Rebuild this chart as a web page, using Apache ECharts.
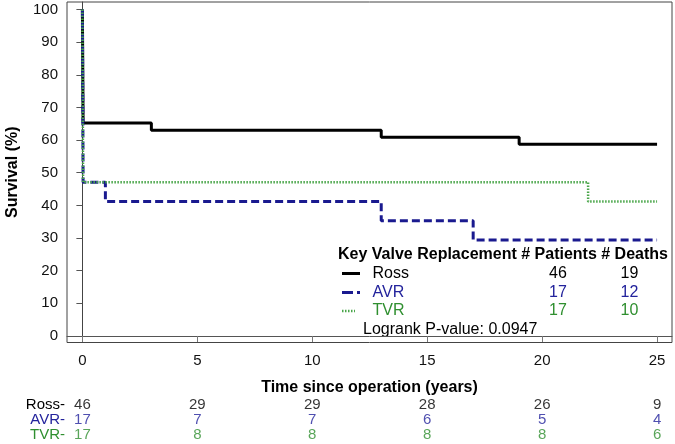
<!DOCTYPE html>
<html>
<head>
<meta charset="utf-8">
<script src="https://cdn.jsdelivr.net/npm/echarts@6/dist/echarts.min.js"></script>
<style>
  html, body { margin: 0; padding: 0; background: #fff; }
  #chart { width: 675px; height: 444px; }
</style>
</head>
<body>
<div id="chart"></div>
<script>
// Kaplan-Meier estimates at event times (years, survival %)
const rossTimes = [0, 0.03, 3, 13, 19, 25];
const rossSurv = [100, 65.2, 63.0, 60.9, 58.7, 58.7];
const avrTimes = [0, 0.03, 1, 13, 17, 25];
const avrSurv = [100, 47.1, 41.2, 35.3, 29.4, 29.4];
const tvrTimes = [0, 0.03, 22, 25];
const tvrSurv = [100, 47.1, 41.2, 41.2];

// legend key
const groups = ['Ross', 'AVR', 'TVR'];
const patients = [46, 17, 17];
const deaths = [19, 12, 10];
const pValue = '0.0947';

// numbers at risk
const riskRows = ['Ross-', 'AVR-', 'TVR-'];
const riskTimes = [0, 5, 10, 15, 20, 25];
const rossRisk = [46, 29, 29, 28, 26, 9];
const avrRisk = [17, 7, 7, 6, 5, 4];
const tvrRisk = [17, 8, 8, 8, 8, 6];

const xTicks = [0, 5, 10, 15, 20, 25];
const yTicks = [0, 10, 20, 30, 40, 50, 60, 70, 80, 90, 100];

const lineColors = ['#000000', '#1a1a8f', '#4aa64a'];
const textColors = ['#000000', '#23239c', '#2f8f2f'];
const font = 'Liberation Sans, Arial, sans-serif';
const narrow = 'Liberation Sans Narrow, Liberation Sans, Arial, sans-serif';

const zip = (a, b) => a.map((v, i) => [v, b[i]]);

const chart = echarts.init(document.getElementById('chart'));

const riskSeries = [rossRisk, avrRisk, tvrRisk].map((vals, r) => ({
  type: 'scatter',
  xAxisIndex: 1,
  yAxisIndex: 1,
  symbolSize: 1,
  itemStyle: { color: 'rgba(0,0,0,0)' },
  silent: true,
  label: {
    show: true,
    position: 'inside',
    formatter: p => p.value[2],
    color: textColors[r],
    fontSize: 15,
    fontFamily: narrow
  },
  data: riskTimes.map((t, i) => [t, riskRows[r], vals[i]])
}));

// legend box drawn as graphic text
const legendX = 338;
const rowY = [273.5, 292.5, 311];
const legendGraphics = [
  { type: 'text', left: legendX, top: 247, style: {
    text: 'Key Valve Replacement # Patients # Deaths',
    font: 'bold 16px ' + font, fill: '#000' } }
];
const dashes = [null, [11, 4], [1.5, 1.5]];
const widths = [3, 3, 2.5];
const swatchEnd = [360, 360, 355];
groups.forEach((g, i) => {
  legendGraphics.push({ type: 'line', shape: { x1: 342, y1: rowY[i], x2: swatchEnd[i], y2: rowY[i] },
    style: { stroke: lineColors[i], lineWidth: widths[i], lineDash: dashes[i] } });
  legendGraphics.push({ type: 'text', x: 372.5, y: rowY[i], style: {
    text: g, font: '16px ' + font, fill: textColors[i], verticalAlign: 'middle' } });
  legendGraphics.push({ type: 'text', x: 558, y: rowY[i], style: {
    text: String(patients[i]), font: '16px ' + font, fill: textColors[i], align: 'center', verticalAlign: 'middle' } });
  legendGraphics.push({ type: 'text', x: 629.5, y: rowY[i], style: {
    text: String(deaths[i]), font: '16px ' + font, fill: textColors[i], align: 'center', verticalAlign: 'middle' } });
});
legendGraphics.push({ type: 'text', x: 363, y: 329.5, style: {
  text: 'Logrank P-value: ' + pValue, font: '16px ' + font, fill: '#000', verticalAlign: 'middle' } });

chart.setOption({
  animation: false,
  textStyle: { fontFamily: font },
  grid: [
    { left: 67, top: 2, width: 605, height: 340.5, show: true, borderColor: '#444', borderWidth: 1,
      outerBoundsMode: 'none', containLabel: false },
    { left: 67, top: 398, width: 605, height: 44, outerBoundsMode: 'none', containLabel: false }
  ],
  xAxis: [
    {
      type: 'value', min: -0.67, max: 25.65,
      name: 'Time since operation (years)', nameLocation: 'middle', nameGap: 37,
      nameTextStyle: { fontSize: 16, fontWeight: 'bold', color: '#000' },
      axisLine: { show: true, lineStyle: { color: '#555' } },
      axisTick: { show: true, length: 6, customValues: xTicks, lineStyle: { color: '#777' } },
      axisLabel: { customValues: xTicks, fontSize: 15, margin: 11, color: '#111' },
      splitLine: { show: false }
    },
    {
      type: 'value', gridIndex: 1, min: -0.67, max: 25.65, show: false
    }
  ],
  yAxis: [
    {
      type: 'value', min: -2, max: 102.3,
      name: 'Survival (%)', nameLocation: 'middle', nameGap: 46,
      nameTextStyle: { fontSize: 16, fontWeight: 'bold', color: '#000' },
      axisLine: { show: true, lineStyle: { color: '#444' } },
      axisTick: { show: true, length: 6, customValues: yTicks, lineStyle: { color: '#555' } },
      axisLabel: { customValues: yTicks, fontSize: 15, margin: 9, color: '#111' },
      splitLine: { show: false }
    },
    {
      type: 'category', gridIndex: 1, data: riskRows, inverse: true,
      axisLine: { show: false }, axisTick: { show: false },
      axisLabel: { interval: 0, fontSize: 15, margin: 2, fontFamily: narrow,
        color: (v, i) => textColors[riskRows.indexOf(v)] }
    }
  ],
  series: [
    { name: 'Ross', type: 'line', step: 'end', symbol: 'none', silent: true,
      lineStyle: { color: lineColors[0], width: 3 }, data: zip(rossTimes, rossSurv) },
    { name: 'AVR', type: 'line', step: 'end', symbol: 'none', silent: true,
      lineStyle: { color: lineColors[1], width: 3, type: [8, 4] }, data: zip(avrTimes, avrSurv) },
    { name: 'TVR', type: 'line', step: 'end', symbol: 'none', silent: true,
      lineStyle: { color: lineColors[2], width: 2.5, type: [1.5, 1.5] }, data: zip(tvrTimes, tvrSurv) }
  ].concat(riskSeries),
  graphic: legendGraphics
});
</script>
</body>
</html>
